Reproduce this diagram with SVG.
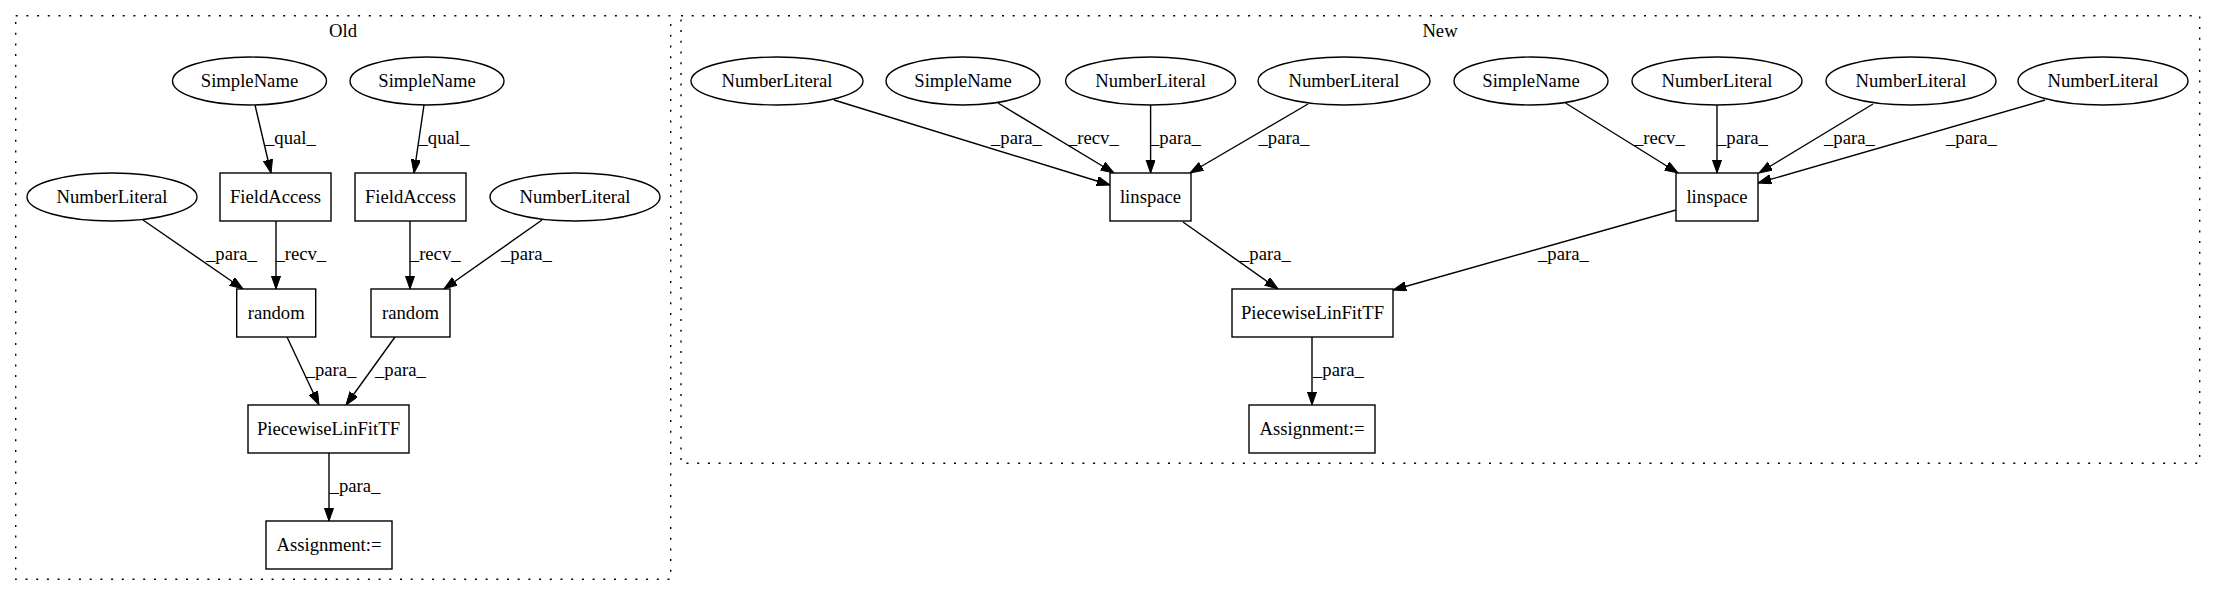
<svg xmlns="http://www.w3.org/2000/svg" width="2216" height="596" viewBox="0 0 2216 596">
<style>
  .bg{fill:#ffffff}
  .cl{fill:none;stroke:#000;stroke-width:1.4;stroke-dasharray:2,8.7}
  .n{fill:#fff;stroke:#000;stroke-width:1.4}
  .t{font-family:"Liberation Serif","Times New Roman",serif;font-size:18.67px;fill:#000;text-anchor:middle}
  .el{font-family:"Liberation Serif","Times New Roman",serif;font-size:18.67px;fill:#000;text-anchor:start}
  .e{stroke:#000;stroke-width:1.4;fill:none;marker-end:url(#ah)}
</style>
<defs>
  <marker id="ah" markerUnits="userSpaceOnUse" markerWidth="14" markerHeight="10" refX="13.3" refY="4.67" orient="auto">
    <path d="M0,0 L13.3,4.67 L0,9.33 z" fill="#000" stroke="#000" stroke-width="1"/>
  </marker>
</defs>
<rect class="bg" x="0" y="0" width="2216" height="596"/>

<g id="cluster-old">
  <rect class="cl" x="15.7" y="15.7" width="655" height="563.6"/>
  <text class="t" x="343" y="36.5">Old</text>
</g>
<g id="cluster-new">
  <rect class="cl" x="681" y="15.7" width="1518.7" height="447.6"/>
  <text class="t" x="1440" y="36.5">New</text>
</g>

<g id="connectors">
  <line class="e" x1="255" y1="105" x2="271" y2="173"/>
  <line class="e" x1="424" y1="105" x2="414" y2="173"/>
  <line class="e" x1="143" y1="220" x2="243" y2="289"/>
  <line class="e" x1="276" y1="221" x2="276" y2="289"/>
  <line class="e" x1="410" y1="221" x2="410" y2="289"/>
  <line class="e" x1="542" y1="220" x2="444" y2="289"/>
  <line class="e" x1="287" y1="337" x2="319" y2="405"/>
  <line class="e" x1="395" y1="337" x2="346" y2="405"/>
  <line class="e" x1="329" y1="453" x2="329" y2="521"/>

  <line class="e" x1="834" y1="100" x2="1110" y2="185"/>
  <line class="e" x1="998" y1="103" x2="1114" y2="173"/>
  <line class="e" x1="1150.6" y1="105" x2="1150.6" y2="173"/>
  <line class="e" x1="1308" y1="104" x2="1190" y2="173"/>
  <line class="e" x1="1565.5" y1="103" x2="1678" y2="173"/>
  <line class="e" x1="1717" y1="105" x2="1717" y2="173"/>
  <line class="e" x1="1873" y1="104" x2="1759" y2="173"/>
  <line class="e" x1="2045" y1="100" x2="1758" y2="183"/>
  <line class="e" x1="1183" y1="222" x2="1278" y2="289"/>
  <line class="e" x1="1676" y1="210" x2="1393" y2="290"/>
  <line class="e" x1="1312" y1="337" x2="1312" y2="405"/>

  <text class="el" x="265" y="144">_qual_</text>
  <text class="el" x="418.5" y="144">_qual_</text>
  <text class="el" x="206" y="260">_para_</text>
  <text class="el" x="275.4" y="260">_recv_</text>
  <text class="el" x="409.8" y="260">_recv_</text>
  <text class="el" x="501" y="260">_para_</text>
  <text class="el" x="305.7" y="376">_para_</text>
  <text class="el" x="375" y="376">_para_</text>
  <text class="el" x="329.6" y="492">_para_</text>

  <text class="el" x="991" y="144">_para_</text>
  <text class="el" x="1068" y="144">_recv_</text>
  <text class="el" x="1150" y="144">_para_</text>
  <text class="el" x="1258.5" y="144">_para_</text>
  <text class="el" x="1634" y="144">_recv_</text>
  <text class="el" x="1717" y="144">_para_</text>
  <text class="el" x="1824" y="144">_para_</text>
  <text class="el" x="1946" y="144">_para_</text>
  <text class="el" x="1240" y="260">_para_</text>
  <text class="el" x="1538" y="260">_para_</text>
  <text class="el" x="1313" y="376">_para_</text>
</g>

<g id="old-simplename-1"><ellipse class="n" cx="249.5" cy="81" rx="77" ry="24"/><text class="t" x="249.5" y="87">SimpleName</text></g>
<g id="old-simplename-2"><ellipse class="n" cx="427" cy="81" rx="77" ry="24"/><text class="t" x="427" y="87">SimpleName</text></g>
<g id="old-numberliteral-1"><ellipse class="n" cx="112" cy="197" rx="85" ry="24"/><text class="t" x="112" y="203">NumberLiteral</text></g>
<g id="old-fieldaccess-1"><rect class="n" x="220" y="173" width="111" height="48"/><text class="t" x="275.5" y="203">FieldAccess</text></g>
<g id="old-fieldaccess-2"><rect class="n" x="355" y="173" width="111" height="48"/><text class="t" x="410.5" y="203">FieldAccess</text></g>
<g id="old-numberliteral-2"><ellipse class="n" cx="575" cy="197" rx="85" ry="24"/><text class="t" x="575" y="203">NumberLiteral</text></g>
<g id="old-random-1"><rect class="n" x="236.7" y="289" width="79" height="48"/><text class="t" x="276.2" y="319">random</text></g>
<g id="old-random-2"><rect class="n" x="371" y="289" width="79" height="48"/><text class="t" x="410.5" y="319">random</text></g>
<g id="old-piecewise"><rect class="n" x="248" y="405" width="161" height="48"/><text class="t" x="328.5" y="435">PiecewiseLinFitTF</text></g>
<g id="old-assignment"><rect class="n" x="266" y="521" width="126" height="48"/><text class="t" x="329" y="551">Assignment:=</text></g>

<g id="new-numberliteral-a"><ellipse class="n" cx="777" cy="81" rx="86" ry="24"/><text class="t" x="777" y="87">NumberLiteral</text></g>
<g id="new-simplename-a"><ellipse class="n" cx="963" cy="81" rx="77" ry="24"/><text class="t" x="963" y="87">SimpleName</text></g>
<g id="new-numberliteral-b"><ellipse class="n" cx="1150.6" cy="81" rx="85" ry="24"/><text class="t" x="1150.6" y="87">NumberLiteral</text></g>
<g id="new-numberliteral-c"><ellipse class="n" cx="1344" cy="81" rx="86" ry="24"/><text class="t" x="1344" y="87">NumberLiteral</text></g>
<g id="new-simplename-b"><ellipse class="n" cx="1531" cy="81" rx="77" ry="24"/><text class="t" x="1531" y="87">SimpleName</text></g>
<g id="new-numberliteral-d"><ellipse class="n" cx="1717" cy="81" rx="85" ry="24"/><text class="t" x="1717" y="87">NumberLiteral</text></g>
<g id="new-numberliteral-e"><ellipse class="n" cx="1911" cy="81" rx="85" ry="24"/><text class="t" x="1911" y="87">NumberLiteral</text></g>
<g id="new-numberliteral-f"><ellipse class="n" cx="2103" cy="81" rx="85" ry="24"/><text class="t" x="2103" y="87">NumberLiteral</text></g>
<g id="new-linspace-a"><rect class="n" x="1110" y="173" width="81" height="48"/><text class="t" x="1150.5" y="203">linspace</text></g>
<g id="new-linspace-b"><rect class="n" x="1676" y="173" width="82" height="48"/><text class="t" x="1717" y="203">linspace</text></g>
<g id="new-piecewise"><rect class="n" x="1232" y="289" width="161" height="48"/><text class="t" x="1312.5" y="319">PiecewiseLinFitTF</text></g>
<g id="new-assignment"><rect class="n" x="1249" y="405" width="126" height="48"/><text class="t" x="1312" y="435">Assignment:=</text></g>
</svg>
